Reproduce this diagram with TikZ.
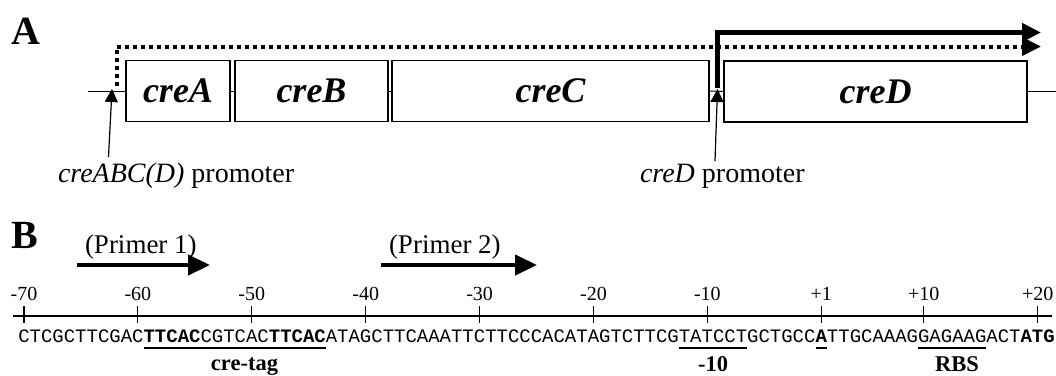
\documentclass[tikz,border=0pt]{standalone}
\usepackage{fontspec}
\setmainfont{Liberation Serif}
\newfontfamily\seqfont{Liberation Mono}
\usetikzlibrary{arrows.meta}

% x position of the left edge of base n of the sequence (1-based)
\newcommand\basex[1]{18.3+(#1)*11.39}

\begin{document}
\begin{tikzpicture}[x=1pt,y=-1pt,
  txt/.style={inner sep=0pt, outer sep=0pt},
  gene/.style={draw, line width=1.1pt, minimum height=61pt, inner sep=0pt,
    font=\fontsize{36}{40}\selectfont\bfseries\itshape},
  dna/.style={line width=1pt},
  promarrow/.style={line width=1.2pt, -{Triangle[length=13pt,width=13pt]}},
  solidtx/.style={line width=4.5pt, line join=miter, -{Triangle[length=19pt,width=18pt]}},
  dottedtx/.style={line width=4pt, dash pattern=on 4pt off 4pt, -{Triangle[length=19pt,width=18pt]}},
  primer/.style={line width=4.5pt, -{Triangle[length=22pt,width=20pt]}},
  ticklbl/.style={txt, anchor=base, font=\fontsize{20}{22}\selectfont},
  boxlbl/.style={txt, anchor=base, font=\fontsize{22.5}{24}\selectfont\bfseries},
  uline/.style={line width=1.1pt},
  thickuline/.style={line width=2pt}
]
\useasboundingbox (0,0) rectangle (1056,375);

% ---------------- Panel A: operon map ----------------
\node[txt, anchor=base west, font=\fontsize{40}{42}\selectfont\bfseries] (panelA) at (12,44) {A};

\node[gene, minimum width=104pt] (creA) at (178,91) {creA};
\node[gene, minimum width=153pt] (creB) at (311.5,91) {creB};
\node[gene, minimum width=317pt] (creC) at (550.5,91) {creC};
\node[gene, minimum width=303pt] (creD) at (875.5,91.5) {creD};

\coordinate (dnaL) at (88,91);
\coordinate (dnaR) at (1056,91.5);
\draw[dna] (dnaL) -- (creA.west);
\draw[dna] (creA.east) -- (creB.west);
\draw[dna] (creB.east) -- (creC.west);
\draw[dna] (creC.east) -- (creD.west);
\draw[dna] (creD.east) -- (dnaR);

% transcripts
\coordinate (dotS) at (116.5,86);
\coordinate (dotE) at (1041,46.5);
\draw[dottedtx] (dotS) |- (dotE);
\coordinate (solS) at (717.5,88);
\coordinate (solE) at (1041,32.5);
\draw[solidtx] (solS) |- (solE);

% promoters
\node[txt, anchor=base west, font=\fontsize{28}{30}\selectfont] (prom1lbl) at (58,182)
  {\textit{creABC(D)} promoter};
\node[txt, anchor=base west, font=\fontsize{28}{30}\selectfont] (prom2lbl) at (640,182)
  {\textit{creD} promoter};
\coordinate (p1tip) at (112,89);
\coordinate (p1foot) at (108.5,157);
\coordinate (p2tip) at (717.5,89);
\coordinate (p2foot) at (715,161);
\draw[promarrow] (p1foot) -- (p1tip);
\draw[promarrow] (p2foot) -- (p2tip);

% ---------------- Panel B: promoter sequence ----------------
\node[txt, anchor=base west, font=\fontsize{40}{42}\selectfont\bfseries] (panelB) at (12,248) {B};

\node[txt, anchor=base west, font=\fontsize{27}{29}\selectfont] (primer1) at (85,253) {(Primer 1)};
\node[txt, anchor=base west, font=\fontsize{27}{29}\selectfont] (primer2) at (389,253) {(Primer 2)};
\coordinate (pr1s) at (77,265);
\coordinate (pr1e) at (210,265);
\coordinate (pr2s) at (381,265);
\coordinate (pr2e) at (537,265);
\draw[primer] (pr1s) -- (pr1e);
\draw[primer] (pr2s) -- (pr2e);

% position axis
\coordinate (axL) at (13,316);
\coordinate (axR) at (1052,316);
\draw[line width=1.2pt] (axL) -- (axR);
\foreach \lab/\i in {-70/1,-60/11,-50/21,-40/31,-30/41,-20/51,-10/61,+1/71,+10/80,+20/90}{
  \draw[line width=1.2pt] ({18.3+(\i-0.5)*11.39},306) -- ++(0,17);
  \node[ticklbl] (tick\i) at ({18.3+(\i-0.5)*11.39},300) {\lab};
}

% sequence
\node[txt, anchor=base west, font=\seqfont\fontsize{18.98}{21}\selectfont] (seq) at (18.3,342)
  {CTCGCTTCGAC\textbf{TTCAC}CGTCAC\textbf{TTCAC}ATAGCTTCAAATTCTTCCCACATAGTCTTCGTATCCTGCTGCC\textbf{A}TTGCAAAGGAGAAGACT\textbf{ATG}};

% underlined elements
\draw[thickuline] ({\basex{11}},348) -- ({\basex{27}},348);
\draw[uline] ({\basex{58}},348) -- ({\basex{64}},348);
\draw[thickuline] ({\basex{70}},348) -- ({\basex{71}},348);
\draw[uline] ({\basex{79}},348) -- ({\basex{85}},348);

\node[boxlbl] (cretag) at (244.5,370) {cre-tag};
\node[boxlbl] (minus10) at (713,371) {-10};
\node[boxlbl] (rbs) at (957,371) {RBS};
\end{tikzpicture}
\end{document}
